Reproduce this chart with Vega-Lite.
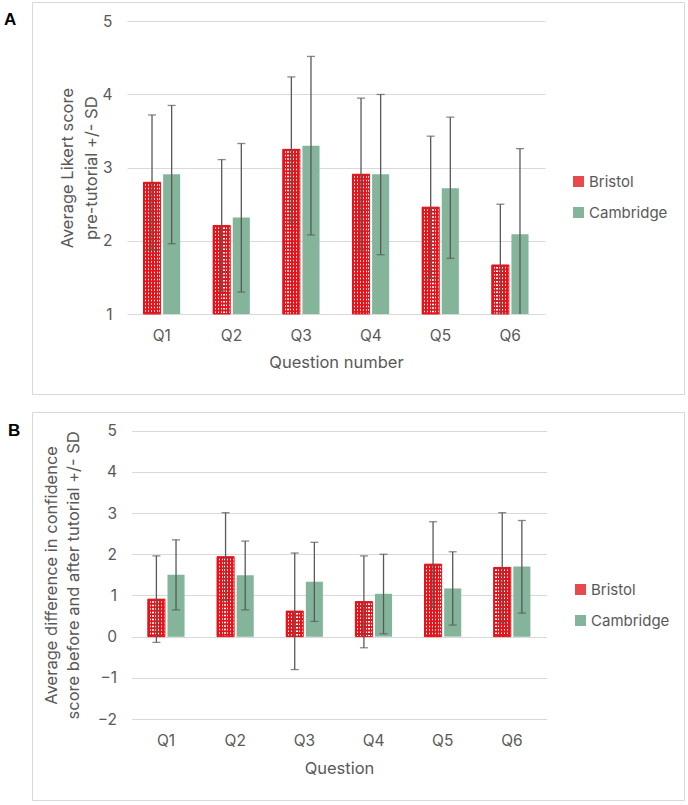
{
  "$schema": "https://vega.github.io/schema/vega-lite/v6.json",
  "padding": {"left": 3, "top": 1, "right": 0, "bottom": 0},
  "bounds": "flush",
  "spacing": 18,
  "resolve": {"scale": {"color": "independent"}, "legend": {"color": "independent"}},
  "datasets": {
    "likert": [
      {"q": "Q1", "group": "Bristol", "mean": 2.80, "lo": 1.88, "hi": 3.72},
      {"q": "Q1", "group": "Cambridge", "mean": 2.91, "lo": 1.96, "hi": 3.85},
      {"q": "Q2", "group": "Bristol", "mean": 2.21, "lo": 1.31, "hi": 3.11},
      {"q": "Q2", "group": "Cambridge", "mean": 2.32, "lo": 1.30, "hi": 3.33},
      {"q": "Q3", "group": "Bristol", "mean": 3.25, "lo": 2.26, "hi": 4.24},
      {"q": "Q3", "group": "Cambridge", "mean": 3.30, "lo": 2.08, "hi": 4.52},
      {"q": "Q4", "group": "Bristol", "mean": 2.91, "lo": 1.87, "hi": 3.95},
      {"q": "Q4", "group": "Cambridge", "mean": 2.91, "lo": 1.81, "hi": 4.00},
      {"q": "Q5", "group": "Bristol", "mean": 2.46, "lo": 1.49, "hi": 3.43},
      {"q": "Q5", "group": "Cambridge", "mean": 2.72, "lo": 1.76, "hi": 3.69},
      {"q": "Q6", "group": "Bristol", "mean": 1.67, "lo": 0.84, "hi": 2.50},
      {"q": "Q6", "group": "Cambridge", "mean": 2.09, "lo": 0.92, "hi": 3.26}
    ],
    "diff": [
      {"q": "Q1", "group": "Bristol", "mean": 0.91, "lo": -0.14, "hi": 1.96},
      {"q": "Q1", "group": "Cambridge", "mean": 1.50, "lo": 0.65, "hi": 2.35},
      {"q": "Q2", "group": "Bristol", "mean": 1.94, "lo": 0.87, "hi": 3.01},
      {"q": "Q2", "group": "Cambridge", "mean": 1.49, "lo": 0.65, "hi": 2.32},
      {"q": "Q3", "group": "Bristol", "mean": 0.62, "lo": -0.80, "hi": 2.03},
      {"q": "Q3", "group": "Cambridge", "mean": 1.33, "lo": 0.37, "hi": 2.29},
      {"q": "Q4", "group": "Bristol", "mean": 0.85, "lo": -0.27, "hi": 1.96},
      {"q": "Q4", "group": "Cambridge", "mean": 1.04, "lo": 0.07, "hi": 2.00},
      {"q": "Q5", "group": "Bristol", "mean": 1.76, "lo": 0.73, "hi": 2.79},
      {"q": "Q5", "group": "Cambridge", "mean": 1.17, "lo": 0.28, "hi": 2.06},
      {"q": "Q6", "group": "Bristol", "mean": 1.68, "lo": 0.34, "hi": 3.01},
      {"q": "Q6", "group": "Cambridge", "mean": 1.70, "lo": 0.57, "hi": 2.82}
    ]
  },
  "vconcat": [
    {
      "width": 652,
      "height": 392,
      "title": {"text": "A", "anchor": "start", "frame": "group", "orient": "top", "offset": 0, "dx": -28, "dy": 35, "baseline": "middle", "align": "left", "font": "Liberation Sans", "fontSize": 17, "fontWeight": "bold", "color": "#000000"},
      "data": {"name": "likert"},
      "encoding": {
        "x": {"field": "q", "type": "nominal",
              "scale": {"type": "band", "range": [95, 513], "paddingInner": 0.473, "paddingOuter": 0.2365},
              "axis": {"orient": "bottom", "offset": -80, "labelAngle": 0, "labelPadding": 14, "title": "Question number", "titlePadding": 11}},
        "xOffset": {"field": "group", "type": "nominal", "scale": {"domain": ["Bristol", "Cambridge"], "paddingInner": 0.13, "paddingOuter": 0}},
        "y": {"field": "mean", "type": "quantitative",
              "scale": {"domain": [1, 5], "range": [312, 19.3], "clamp": true, "nice": false, "zero": false},
              "axis": {"values": [1, 2, 3, 4, 5], "offset": -95, "labelPadding": 15, "grid": true,
                       "title": ["Average Likert score", "pre-tutorial  +/- SD"], "titlePadding": 2, "titleLineHeight": 24}}
      },
      "layer": [
        {
          "mark": {"type": "bar"},
          "encoding": {
            "y2": {"datum": 1},
            "color": {"field": "group", "type": "nominal",
                      "scale": {"domain": ["Bristol", "Cambridge"], "range": ["#e8494c", "#84b59b"]},
                      "legend": {"orient": "none", "legendX": 539, "legendY": 172, "title": null}}
          }
        },
        {
          "transform": [{"filter": "datum.group === 'Bristol'"}],
          "mark": {"type": "bar", "stroke": "#e3141b", "strokeWidth": 1,
                   "color": {"gradient": "linear", "x1": 0, "y1": 0, "x2": 1, "y2": 0,
                             "stops": [
                               {"offset": 0, "color": "#e3141b"}, {"offset": 0.1, "color": "#e3141b"},
                               {"offset": 0.1, "color": "#ffffff"}, {"offset": 0.1667, "color": "#ffffff"},
                               {"offset": 0.1667, "color": "#e3141b"}, {"offset": 0.2667, "color": "#e3141b"},
                               {"offset": 0.2667, "color": "#ffffff"}, {"offset": 0.3333, "color": "#ffffff"},
                               {"offset": 0.3333, "color": "#e3141b"}, {"offset": 0.4333, "color": "#e3141b"},
                               {"offset": 0.4333, "color": "#ffffff"}, {"offset": 0.5, "color": "#ffffff"},
                               {"offset": 0.5, "color": "#e3141b"}, {"offset": 0.6, "color": "#e3141b"},
                               {"offset": 0.6, "color": "#ffffff"}, {"offset": 0.6667, "color": "#ffffff"},
                               {"offset": 0.6667, "color": "#e3141b"}, {"offset": 0.7667, "color": "#e3141b"},
                               {"offset": 0.7667, "color": "#ffffff"}, {"offset": 0.8333, "color": "#ffffff"},
                               {"offset": 0.8333, "color": "#e3141b"}, {"offset": 0.9333, "color": "#e3141b"},
                               {"offset": 0.9333, "color": "#ffffff"}, {"offset": 1, "color": "#ffffff"}
                             ]}},
          "encoding": {"y2": {"datum": 1}}
        },
        {
          "transform": [{"filter": "datum.group === 'Bristol'"}],
          "mark": {"type": "rule", "color": "#e3141b", "strokeWidth": 16.5, "strokeDash": [2, 1.5]},
          "encoding": {"y2": {"datum": 1}}
        },
        {
          "mark": {"type": "rule", "color": "#595959", "strokeWidth": 1.3},
          "encoding": {"y": {"field": "lo", "type": "quantitative"}, "y2": {"field": "hi"}}
        },
        {
          "mark": {"type": "tick", "color": "#595959", "thickness": 1.3, "size": 8},
          "encoding": {"y": {"field": "hi", "type": "quantitative"}}
        },
        {
          "transform": [{"filter": "datum.lo >= 1"}],
          "mark": {"type": "tick", "color": "#595959", "thickness": 1.3, "size": 8},
          "encoding": {"y": {"field": "lo", "type": "quantitative"}}
        }
      ]
    },
    {
      "width": 652,
      "height": 388,
      "title": {"text": "B", "anchor": "start", "frame": "group", "orient": "top", "offset": 0, "dx": -24, "dy": 36, "baseline": "middle", "align": "left", "font": "Liberation Sans", "fontSize": 17, "fontWeight": "bold", "color": "#000000"},
      "data": {"name": "diff"},
      "encoding": {
        "x": {"field": "q", "type": "nominal",
              "scale": {"type": "band", "range": [99.5, 514.5], "paddingInner": 0.473, "paddingOuter": 0.2365},
              "axis": {"orient": "bottom", "offset": -81, "labelAngle": 0, "labelPadding": 14, "title": "Question", "titlePadding": 12}},
        "xOffset": {"field": "group", "type": "nominal", "scale": {"domain": ["Bristol", "Cambridge"], "paddingInner": 0.13, "paddingOuter": 0}},
        "y": {"field": "mean", "type": "quantitative",
              "scale": {"domain": [-2, 5], "range": [307, 18.7], "nice": false, "zero": false},
              "axis": {"values": [-2, -1, 0, 1, 2, 3, 4, 5], "offset": -99.5, "labelPadding": 15, "grid": true,
                       "title": ["Average difference in confidence", "score before and after tutorial +/- SD"], "titlePadding": 16, "titleLineHeight": 22}}
      },
      "layer": [
        {
          "mark": {"type": "bar"},
          "encoding": {
            "y2": {"datum": 0},
            "color": {"field": "group", "type": "nominal",
                      "scale": {"domain": ["Bristol", "Cambridge"], "range": ["#e8494c", "#84b59b"]},
                      "legend": {"orient": "none", "legendX": 541, "legendY": 170, "title": null}}
          }
        },
        {
          "transform": [{"filter": "datum.group === 'Bristol'"}],
          "mark": {"type": "bar", "stroke": "#e3141b", "strokeWidth": 1,
                   "color": {"gradient": "linear", "x1": 0, "y1": 0, "x2": 1, "y2": 0,
                             "stops": [
                               {"offset": 0, "color": "#e3141b"}, {"offset": 0.1, "color": "#e3141b"},
                               {"offset": 0.1, "color": "#ffffff"}, {"offset": 0.1667, "color": "#ffffff"},
                               {"offset": 0.1667, "color": "#e3141b"}, {"offset": 0.2667, "color": "#e3141b"},
                               {"offset": 0.2667, "color": "#ffffff"}, {"offset": 0.3333, "color": "#ffffff"},
                               {"offset": 0.3333, "color": "#e3141b"}, {"offset": 0.4333, "color": "#e3141b"},
                               {"offset": 0.4333, "color": "#ffffff"}, {"offset": 0.5, "color": "#ffffff"},
                               {"offset": 0.5, "color": "#e3141b"}, {"offset": 0.6, "color": "#e3141b"},
                               {"offset": 0.6, "color": "#ffffff"}, {"offset": 0.6667, "color": "#ffffff"},
                               {"offset": 0.6667, "color": "#e3141b"}, {"offset": 0.7667, "color": "#e3141b"},
                               {"offset": 0.7667, "color": "#ffffff"}, {"offset": 0.8333, "color": "#ffffff"},
                               {"offset": 0.8333, "color": "#e3141b"}, {"offset": 0.9333, "color": "#e3141b"},
                               {"offset": 0.9333, "color": "#ffffff"}, {"offset": 1, "color": "#ffffff"}
                             ]}},
          "encoding": {"y2": {"datum": 0}}
        },
        {
          "transform": [{"filter": "datum.group === 'Bristol'"}],
          "mark": {"type": "rule", "color": "#e3141b", "strokeWidth": 16.5, "strokeDash": [2, 1.5]},
          "encoding": {"y2": {"datum": 0}}
        },
        {
          "mark": {"type": "rule", "color": "#595959", "strokeWidth": 1.3},
          "encoding": {"y": {"field": "lo", "type": "quantitative"}, "y2": {"field": "hi"}}
        },
        {
          "mark": {"type": "tick", "color": "#595959", "thickness": 1.3, "size": 8},
          "encoding": {"y": {"field": "hi", "type": "quantitative"}}
        },
        {
          "mark": {"type": "tick", "color": "#595959", "thickness": 1.3, "size": 8},
          "encoding": {"y": {"field": "lo", "type": "quantitative"}}
        }
      ]
    }
  ],
  "config": {
    "font": "Inter",
    "view": {"stroke": "#d9d9d9", "strokeWidth": 1},
    "axis": {"labelColor": "#595959", "titleColor": "#595959", "labelFontSize": 15.5, "titleFontSize": 16.5,
             "titleFontWeight": "normal", "domain": false, "ticks": false, "tickSize": 0, "gridColor": "#d9d9d9", "gridWidth": 1},
    "legend": {"symbolType": "square", "symbolSize": 121, "symbolStrokeWidth": 0, "labelFontSize": 15,
               "labelColor": "#595959", "labelOffset": 3, "rowPadding": 15}
  }
}
